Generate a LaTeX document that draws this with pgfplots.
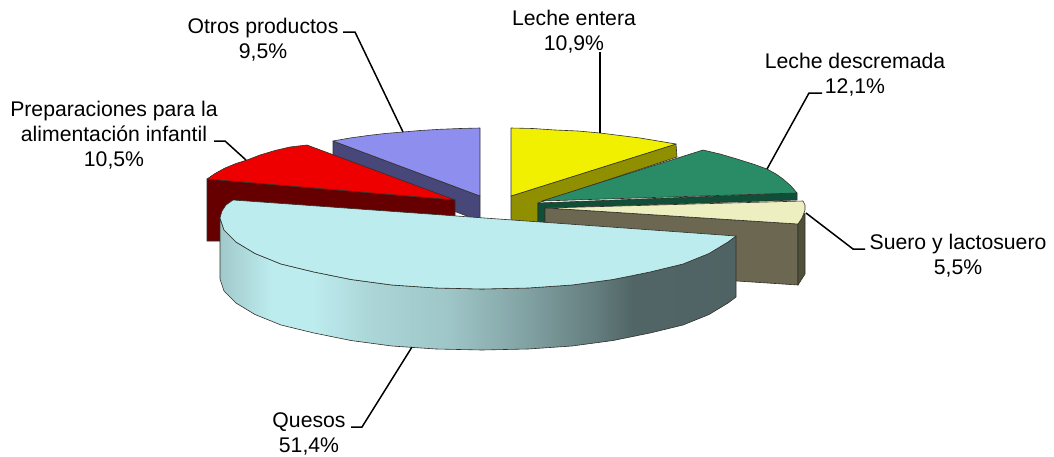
\documentclass[border=0pt]{standalone}
\usepackage{pgfplots}
\pgfplotsset{compat=1.18}
\usepackage{fontspec}
\setmainfont{Liberation Sans}

\definecolor{cyellow}{HTML}{F0F000}
\definecolor{cyellowd}{HTML}{8F8F00}
\definecolor{cgreen}{HTML}{2A8C66}
\definecolor{cgreend}{HTML}{0F4F37}
\definecolor{ccream}{HTML}{EEEFC0}
\definecolor{ctaupe}{HTML}{6B6750}
\definecolor{ctauped}{HTML}{50503A}
\definecolor{cred}{HTML}{EE0000}
\definecolor{credd}{HTML}{660000}
\definecolor{cblue}{HTML}{8E8EEE}
\definecolor{cblued}{HTML}{47477A}
\definecolor{cques}{HTML}{BDECEE}
\definecolor{cedge}{HTML}{30302A}

% the path box maps to 25bp..75bp of the shading
\pgfdeclarehorizontalshading{quesoside}{100bp}{
  color(0bp)=(cques!85!black);
  color(25bp)=(cques!85!black);
  color(30bp)=(cques);
  color(34bp)=(cques);
  color(40bp)=(cques!90!black);
  color(47bp)=(cques!84!black);
  color(54bp)=(cques!70!black);
  color(61bp)=(cques!54!black);
  color(65bp)=(cques!43!black);
  color(75bp)=(cques!42!black);
  color(100bp)=(cques!42!black)}

\tikzset{
  slice/.style={draw=cedge, line width=0.6pt, line join=round},
  leader/.style={black, line width=1.5pt, line join=miter},
  lab/.style={font=\fontsize{21.2}{25}\selectfont, align=center, anchor=center, inner sep=0pt}
}

\begin{document}
\begin{tikzpicture}
\begin{axis}[
  scale only axis, width=1054pt, height=456pt,
  xmin=0, xmax=1054, ymin=0, ymax=456, y dir=reverse,
  hide axis, clip=false
]
% keeps the page at the full axis size
\addplot[draw=white, opacity=0, line width=0pt] coordinates {(0,0) (1054,0) (1054,456) (0,456)} -- cycle;
% otros productos
\addplot[slice, fill=cblued] coordinates {(333,141) (480,196) (480,221) (333,165)} -- cycle;
\addplot[slice, fill=cblue] coordinates {(333,141) (350,138) (368,135.5) (385,133.5) (403,132) (420,130.5) (440,129.3) (460,128.5) (480,128) (480,196)} -- cycle;
% preparaciones
\addplot[slice, fill=credd] coordinates {(207,179) (455,200) (455,222) (222,241) (207,241)} -- cycle;
\addplot[slice, fill=cred] coordinates {(207,179) (215,173.5) (225,168) (236,163.5) (247,160) (260,155) (275,150.5) (290,147) (307,145) (455,200)} -- cycle;
% leche entera
\addplot[slice, fill=cyellowd] coordinates {(511,196) (676,144) (677,157) (538,203) (538,224) (511,223)} -- cycle;
\addplot[slice, fill=cyellow] coordinates {(511,128) (533,128.5) (555,130) (578,131) (600,133) (620,135.5) (640,138) (658,141) (676,144) (511,196)} -- cycle;
% leche descremada
\addplot[slice, fill=cgreend] coordinates {(538,203) (797,193) (797,200) (545,208) (545,224) (538,224)} -- cycle;
\addplot[slice, fill=cgreen] coordinates {(542,201) (703,150) (720,154) (737,159) (753,164) (767,169) (776,174) (783,179) (791,186) (797,193)} -- cycle;
% suero
\addplot[slice, fill=ctaupe] coordinates {(545,208) (798,224) (798,285) (737,281) (545,260)} -- cycle;
\addplot[slice, fill=ctauped] coordinates {(798,224) (805,213) (805,274) (798,285)} -- cycle;
\addplot[slice, fill=ccream] coordinates {(547,208) (803,201) (805,205) (805,210) (802,218) (798,224)} -- cycle;
% quesos
\addplot[slice, shading=quesoside] coordinates {(220,218) (224,230) (236,242) (255,253.5) (281,264) (314,272) (351,279.5) (392,285) (436,288) (482,289) (528,288) (572,285) (613,279.5) (650,272) (683,264) (709,253.5) (728,242) (736,236) (736,297) (728,303) (709,314.5) (683,325) (650,333) (613,340.5) (572,346) (528,349) (482,350) (436,349) (392,346) (351,340.5) (314,333) (281,325) (255,314.5) (236,303) (224,291) (220,279)} -- cycle;
\addplot[slice, fill=cques] coordinates {(233,200) (736,236) (728,242) (709,253.5) (683,264) (650,272) (613,279.5) (572,285) (528,288) (482,289) (436,288) (392,285) (351,279.5) (314,272) (281,264) (255,253.5) (236,242) (224,230) (220,218) (222,211) (226,205)} -- cycle;
% leaders
\addplot[leader] coordinates {(343,32) (355,32) (403,132)};
\addplot[leader] coordinates {(600,52) (600,133)};
\addplot[leader] coordinates {(822,93) (809,93) (767,169)};
\addplot[leader] coordinates {(865,249) (853,249) (806,213)};
\addplot[leader] coordinates {(214,141) (225,141) (246,160)};
\addplot[leader] coordinates {(351,427) (362,427) (412,347)};
% labels
\node[lab] at (axis cs:263,39.5) {Otros productos\\9,5\%};
\node[lab] at (axis cs:574,31.5) {Leche entera\\10,9\%};
\node[lab] at (axis cs:855,74.5) {Leche descremada\\12,1\%};
\node[lab] at (axis cs:958,256) {Suero y lactosuero\\5,5\%};
\node[lab] at (axis cs:114,135) {Preparaciones para la\\alimentación infantil\\10,5\%};
\node[lab] at (axis cs:309,434) {Quesos\\51,4\%};
\end{axis}
\end{tikzpicture}
\end{document}
